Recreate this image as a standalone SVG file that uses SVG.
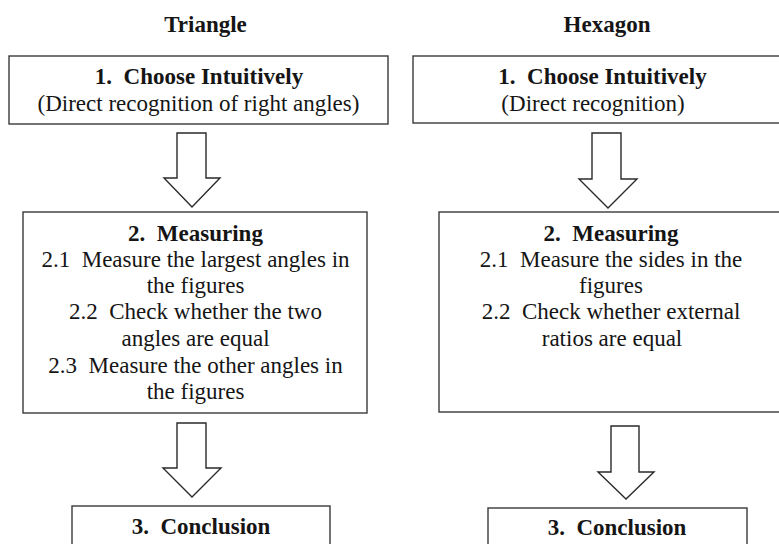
<svg xmlns="http://www.w3.org/2000/svg" width="779" height="544" viewBox="0 0 779 544" xml:space="preserve">
<style>
.box{fill:#fff;stroke:#3a3a3a;stroke-width:1.4}
.arr{fill:#fff;stroke:#2a2a2a;stroke-width:1.4;stroke-linejoin:miter}
text{font-family:"Liberation Serif","Times New Roman",serif;font-size:23px;fill:#151515;text-anchor:middle;white-space:pre}
.b{font-weight:bold}
</style>
<rect width="779" height="544" fill="#fff"/>
<g id="heading-triangle"><text class="b" x="205.5" y="32">Triangle</text></g>
<g id="heading-hexagon"><text class="b" x="607" y="32">Hexagon</text></g>
<g id="tri-step1">
<rect class="box" x="9" y="56" width="379" height="68"/>
<text class="b" x="199" y="84">1.  Choose Intuitively</text>
<text x="198.5" y="111">(Direct recognition of right angles)</text>
</g>
<g id="tri-step2">
<rect class="box" x="23" y="212" width="344" height="201"/>
<text class="b" x="195.5" y="241">2.  Measuring</text>
<text x="195.5" y="267">2.1  Measure the largest angles in</text>
<text x="195.5" y="293">the figures</text>
<text x="195.5" y="319">2.2  Check whether the two</text>
<text x="195.5" y="346">angles are equal</text>
<text x="195.5" y="373">2.3  Measure the other angles in</text>
<text x="195.5" y="399">the figures</text>
</g>
<g id="tri-step3">
<rect class="box" x="72" y="506" width="258" height="60"/>
<text class="b" x="201" y="534">3.  Conclusion</text>
</g>
<g id="hex-step1">
<rect class="box" x="413" y="56" width="380" height="67"/>
<text class="b" x="602.5" y="84">1.  Choose Intuitively</text>
<text x="593" y="111">(Direct recognition)</text>
</g>
<g id="hex-step2">
<rect class="box" x="439" y="212" width="360" height="200"/>
<text class="b" x="611" y="241">2.  Measuring</text>
<text x="611" y="267">2.1  Measure the sides in the</text>
<text x="611" y="293">figures</text>
<text x="611" y="319">2.2  Check whether external</text>
<text x="612" y="346">ratios are equal</text>
</g>
<g id="hex-step3">
<rect class="box" x="488" y="508" width="259" height="60"/>
<text class="b" x="617" y="535">3.  Conclusion</text>
</g>
<g id="connectors">
<polygon class="arr" points="177,133 206,133 206,178 220,178 192,207 164,178 177,178"/>
<polygon class="arr" points="592,133 621,133 621,179 637,179 608,208 579,179 592,179"/>
<polygon class="arr" points="177,423 206,423 206,468 221,468 192,497 163,468 177,468"/>
<polygon class="arr" points="611,426 639,426 639,472 654,472 626,499 598,472 611,472"/>
</g>
</svg>
